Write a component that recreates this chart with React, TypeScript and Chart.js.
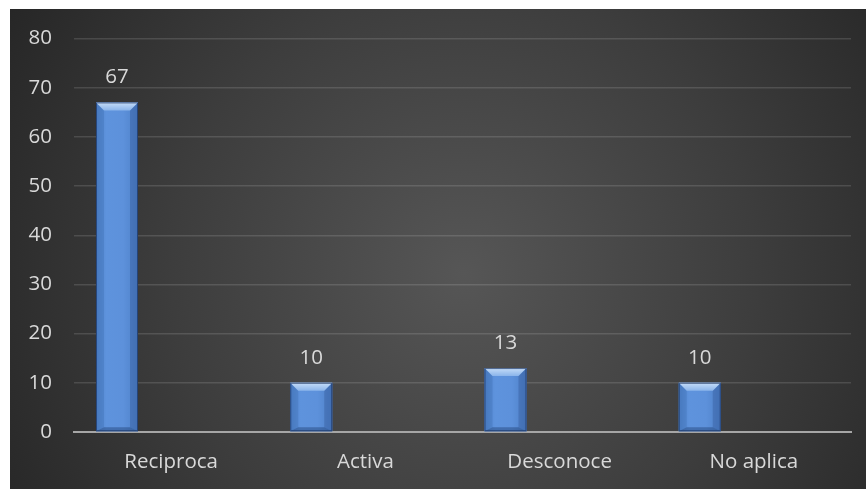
import React, { useEffect, useRef } from "react";
import { Chart, registerables } from "chart.js";

Chart.register(...registerables);

// Response categories and counts
const categories = ["Reciproca", "Activa", "Desconoce", "No aplica"];
const counts = [67, 10, 13, 10];
// Second (empty) series keeps each bar in the left half of its category slot
const emptySeries: (number | null)[] = [null, null, null, null];
const yMin = 0;
const yMax = 80;
const yStep = 10;

const FONT = "'Open Sans', 'DejaVu Sans', sans-serif";
const TEXT = "#d9d9d9";
const FONT_SIZE = 20.5;

// Dark radial backdrop behind the whole chart
const backdropPlugin = {
  id: "backdrop",
  beforeDraw(chart: Chart) {
    const { ctx, width, height } = chart;
    const g = ctx.createRadialGradient(
      width * 0.53, height * 0.55, 0,
      width * 0.53, height * 0.55, width * 0.62
    );
    g.addColorStop(0, "#565656");
    g.addColorStop(0.55, "#3d3d3d");
    g.addColorStop(1, "#262626");
    ctx.save();
    ctx.fillStyle = g;
    ctx.fillRect(0, 0, width, height);
    ctx.restore();
  },
};

// Bevelled look on each bar plus its value label
const bevelPlugin = {
  id: "bevel",
  afterDatasetsDraw(chart: Chart) {
    const { ctx } = chart;
    const meta = chart.getDatasetMeta(0);
    const data = chart.data.datasets[0].data as number[];
    ctx.save();
    meta.data.forEach((el: any, i: number) => {
      const { x, y, base, width } = el.getProps(["x", "y", "base", "width"], true);
      const x0 = x - width / 2;
      const x1 = x + width / 2;
      const top = y;
      const bot = base;
      const b = 8;

      // body shading
      const body = ctx.createLinearGradient(x0, 0, x1, 0);
      body.addColorStop(0, "#4f82c9");
      body.addColorStop(0.25, "#5e93dd");
      body.addColorStop(0.65, "#5d91db");
      body.addColorStop(1, "#4d80c7");
      ctx.fillStyle = body;
      ctx.fillRect(x0, top, width, bot - top);

      // left facet
      ctx.beginPath();
      ctx.moveTo(x0, top);
      ctx.lineTo(x0 + b, top + b);
      ctx.lineTo(x0 + b, bot - 4);
      ctx.lineTo(x0, bot);
      ctx.closePath();
      ctx.fillStyle = "rgba(45,90,155,0.22)";
      ctx.fill();

      // right facet
      ctx.beginPath();
      ctx.moveTo(x1, top);
      ctx.lineTo(x1 - b, top + b);
      ctx.lineTo(x1 - b, bot - 4);
      ctx.lineTo(x1, bot);
      ctx.closePath();
      ctx.fillStyle = "rgba(30,60,120,0.25)";
      ctx.fill();

      // bottom facet
      ctx.beginPath();
      ctx.moveTo(x0, bot);
      ctx.lineTo(x0 + b, bot - 4);
      ctx.lineTo(x1 - b, bot - 4);
      ctx.lineTo(x1, bot);
      ctx.closePath();
      ctx.fillStyle = "rgba(25,55,105,0.4)";
      ctx.fill();

      // top facet
      const tg = ctx.createLinearGradient(0, top, 0, top + b);
      tg.addColorStop(0, "#c6ddf8");
      tg.addColorStop(1, "#8ab4ea");
      ctx.beginPath();
      ctx.moveTo(x0, top);
      ctx.lineTo(x1, top);
      ctx.lineTo(x1 - b, top + b);
      ctx.lineTo(x0 + b, top + b);
      ctx.closePath();
      ctx.fillStyle = tg;
      ctx.fill();

      // outline
      ctx.strokeStyle = "rgba(25,50,95,0.7)";
      ctx.lineWidth = 1;
      ctx.strokeRect(x0 + 0.5, top + 0.5, width - 1, bot - top - 1);

      // value label
      ctx.fillStyle = TEXT;
      ctx.font = `${FONT_SIZE}px ${FONT}`;
      ctx.textAlign = "center";
      ctx.textBaseline = "middle";
      ctx.fillText(String(data[i]), x, top - 25);
    });
    ctx.restore();
  },
};

export default function App() {
  const canvasRef = useRef<HTMLCanvasElement | null>(null);

  useEffect(() => {
    if (!canvasRef.current) return;
    const chart = new Chart(canvasRef.current, {
      type: "bar",
      data: {
        labels: categories,
        datasets: [
          {
            data: counts,
            backgroundColor: "#5b8fd8",
            categoryPercentage: 1.1146,
            barPercentage: 0.388,
          },
          {
            data: emptySeries,
            backgroundColor: "transparent",
            categoryPercentage: 1.1146,
            barPercentage: 0.388,
          },
        ],
      },
      options: {
        animation: false,
        responsive: true,
        maintainAspectRatio: false,
        layout: { padding: { top: 29.5, right: 15, bottom: 0, left: 0 } },
        plugins: {
          legend: { display: false },
          tooltip: { enabled: false },
        },
        scales: {
          x: {
            grid: { display: false, drawTicks: false },
            border: { display: true, color: "#a6a6a6", width: 2 },
            ticks: {
              color: TEXT,
              font: { family: FONT, size: FONT_SIZE },
              padding: 18,
            },
            afterFit(scale: any) {
              scale.height = 57;
            },
          },
          y: {
            min: yMin,
            max: yMax,
            grid: {
              color: "rgba(255,255,255,0.13)",
              lineWidth: 1.5,
              drawTicks: false,
            },
            border: { display: false },
            ticks: {
              stepSize: yStep,
              color: TEXT,
              font: { family: FONT, size: FONT_SIZE },
              padding: 22,
            },
            afterFit(scale: any) {
              scale.width = 64;
              scale.paddingTop = 0;
              scale.paddingBottom = 0;
            },
          },
        },
      },
      plugins: [backdropPlugin, bevelPlugin],
    });
    return () => chart.destroy();
  }, []);

  return (
    <div
      style={{
        position: "fixed",
        left: 10,
        top: 9,
        width: 856,
        height: 480,
      }}
    >
      <canvas ref={canvasRef} />
    </div>
  );
}
